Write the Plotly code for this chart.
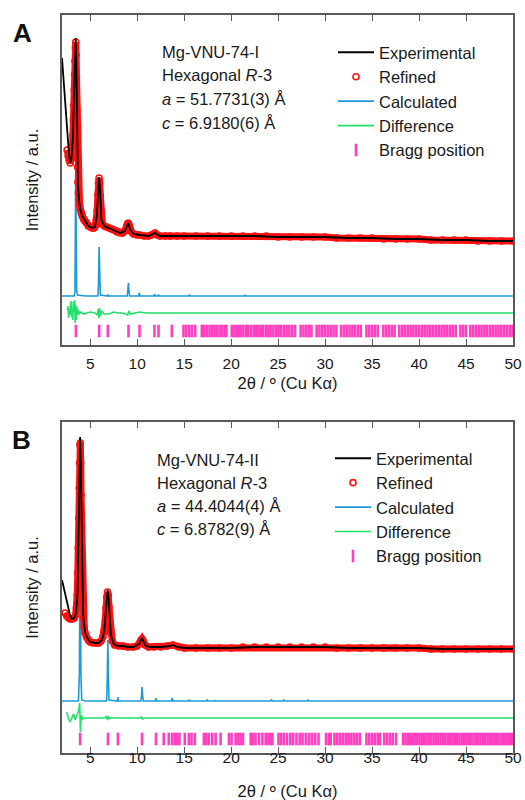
import plotly.graph_objects as go

# ---------------- Panel A : Mg-VNU-74-I (2theta, intensity a.u.) ----------------
a_exp = [(2.00, 287), (2.20, 260), (2.40, 235), (2.60, 208), (2.75, 190), (2.88, 182), (3.00, 186),
         (3.15, 205), (3.28, 245), (3.38, 285), (3.46, 307), (3.54, 270), (3.62, 200), (3.70, 162),
         (3.80, 145), (3.95, 136), (4.15, 129), (4.45, 124), (4.80, 119), (5.20, 117), (5.50, 118),
         (5.70, 128), (5.85, 158), (5.95, 168), (6.05, 155), (6.20, 125), (6.50, 119), (7.00, 117),
         (7.50, 115), (8.20, 112), (8.70, 114), (8.95, 121), (9.05, 122), (9.25, 116), (9.60, 111),
         (10.3, 110), (11.2, 109), (11.9, 112), (12.4, 109), (13.5, 109), (15.0, 109), (17.5, 109),
         (20.0, 109), (22.5, 109), (25.0, 108), (27.5, 108), (30.0, 108), (32.5, 107), (35.0, 107),
         (37.5, 106), (40.0, 106), (42.5, 105), (45.0, 105), (47.5, 104), (50.0, 104)]

a_ref = [(2.55, 195), (2.65, 189), (2.75, 185), (2.88, 182), (3.00, 186), (3.06, 190), (3.12, 198),
         (3.17, 210), (3.22, 225), (3.26, 240), (3.30, 255), (3.34, 270), (3.38, 284), (3.42, 297),
         (3.46, 303), (3.50, 290), (3.54, 268), (3.58, 235), (3.62, 202), (3.66, 178), (3.70, 163),
         (3.75, 152), (3.80, 145), (3.87, 140), (3.95, 136), (4.05, 132), (4.15, 129), (4.30, 126),
         (4.45, 124), (4.60, 122), (4.80, 119), (5.00, 118), (5.20, 117), (5.40, 117), (5.55, 119),
         (5.65, 124), (5.75, 135), (5.82, 150), (5.88, 162), (5.95, 167), (6.01, 162), (6.07, 150),
         (6.13, 135), (6.20, 125), (6.30, 121), (6.50, 119), (6.75, 118), (7.00, 117), (7.25, 116),
         (7.50, 115), (7.85, 113), (8.20, 112), (8.45, 112), (8.70, 114), (8.85, 118), (8.95, 121),
         (9.05, 122), (9.15, 120), (9.25, 116), (9.40, 113), (9.60, 111), (9.95, 110), (10.3, 110),
         (10.75, 109), (11.2, 109), (11.55, 110), (11.9, 112), (12.15, 110), (12.4, 109), (13.0, 109),
         (13.5, 109), (14.25, 109), (15.0, 109), (16.25, 109), (17.5, 109), (18.75, 109), (20.0, 109),
         (21.25, 109), (22.5, 109), (23.75, 109), (25.0, 108), (26.25, 108), (27.5, 108), (28.75, 108),
         (30.0, 108), (31.25, 107), (32.5, 107), (33.75, 107), (35.0, 107), (36.25, 106), (37.5, 106),
         (38.75, 106), (40.0, 106), (41.25, 105), (42.5, 105), (43.75, 105), (45.0, 105), (46.25, 104),
         (47.5, 104), (48.75, 104), (50.0, 104)]

a_calc = [(2.0, 49), (3.30, 49), (3.38, 54), (3.43, 110), (3.47, 200), (3.51, 110), (3.56, 54),
          (3.65, 50), (4.5, 49), (5.82, 49), (5.88, 60), (5.95, 98), (6.02, 60), (6.08, 50),
          (6.85, 49), (6.88, 50.5), (6.92, 49), (8.95, 49), (9.01, 54), (9.07, 62), (9.13, 54),
          (9.20, 49), (10.15, 49), (10.22, 52), (10.30, 49), (11.80, 49), (11.85, 51), (11.90, 49),
          (12.22, 49), (12.27, 50.5), (12.32, 49), (15.50, 49), (15.55, 50.5), (15.60, 49),
          (21.45, 49), (21.50, 50.3), (21.55, 49), (50.0, 49)]

a_diff = [(2.58, 35), (2.64, 39), (2.70, 27), (2.76, 36), (2.82, 30), (2.90, 40), (2.96, 44),
          (3.02, 28), (3.08, 36), (3.14, 25), (3.20, 43), (3.28, 33), (3.34, 45), (3.40, 22),
          (3.46, 40), (3.52, 25), (3.58, 38), (3.66, 30), (3.74, 35), (3.85, 31), (4.00, 33),
          (4.30, 31), (4.60, 32), (5.00, 33), (5.50, 32), (5.75, 30), (5.85, 36), (5.92, 27),
          (6.00, 37), (6.08, 29), (6.20, 34), (6.50, 31), (7.00, 31), (7.50, 33), (8.00, 32),
          (8.50, 32), (9.00, 30), (9.10, 34), (9.30, 31), (10.0, 32), (10.25, 33), (11.0, 32),
          (12.0, 32), (50.0, 32)]

a_bragg = [3.48, 5.96, 6.88, 9.08, 10.25, 11.84, 12.27, 13.69, 14.93, 15.21, 15.53, 15.82, 16.17,
           16.88, 17.13, 17.41, 17.70, 17.94, 18.23, 18.48, 18.76, 19.00, 19.30, 19.50, 20.07, 20.35,
           20.60, 20.80, 21.00, 21.30, 21.60, 21.80, 22.10, 22.40, 22.66, 22.90, 23.16, 23.40, 23.70,
           23.97, 24.20, 24.50, 24.80, 25.05, 25.30, 25.60, 25.90, 26.20, 26.50, 26.80, 27.40, 27.70,
           28.00, 28.30, 28.55, 29.10, 29.40, 29.70, 30.00, 30.30, 30.60, 30.90, 31.20, 31.70, 32.00,
           32.30, 32.60, 32.90, 33.20, 33.50, 33.80, 34.40, 34.70, 35.00, 35.30, 35.60, 36.20, 36.50,
           36.80, 37.10, 37.40, 37.90, 38.20, 38.50, 38.80, 39.10, 39.40, 39.70, 40.00, 40.30, 40.60,
           40.90, 41.20, 41.50, 41.80, 42.10, 42.40, 42.70, 43.00, 43.30, 43.60, 43.90, 44.40, 44.70,
           45.00, 45.45, 45.75, 46.05, 46.35, 46.65, 46.95, 47.25, 47.55, 47.85, 48.15, 48.45, 48.75,
           49.05, 49.35, 49.65, 49.95]

a_info = ["Mg-VNU-74-I", "Hexagonal <i>R</i>-3", "<i>a</i> = 51.7731(3) Å", "<i>c</i> = 6.9180(6) Å"]

# ---------------- Panel B : Mg-VNU-74-II ----------------
b_exp = [(2.0, 173), (2.3, 160), (2.6, 147), (2.85, 138), (3.05, 134), (3.3, 135), (3.5, 140),
         (3.65, 160), (3.75, 210), (3.85, 280), (3.93, 316), (4.0, 290), (4.08, 220), (4.16, 170),
         (4.25, 140), (4.35, 128), (4.5, 119), (4.75, 114), (5.0, 111), (5.5, 110), (5.9, 110),
         (6.25, 113), (6.5, 122), (6.65, 140), (6.78, 158), (6.86, 163), (6.95, 156), (7.05, 138),
         (7.2, 118), (7.5, 109), (8.0, 107), (8.5, 107), (9.0, 106), (9.6, 106), (10.2, 109),
         (10.4, 113), (10.52, 115), (10.65, 112), (10.9, 107), (11.4, 106), (12.5, 106), (13.5, 107),
         (13.8, 108), (14.2, 106), (15.0, 105), (17.5, 105), (20.0, 105), (22.5, 106), (25.0, 106),
         (27.5, 106), (30.0, 106), (32.5, 105), (35.0, 105), (37.5, 105), (40.0, 105), (42.5, 104),
         (45.0, 104), (47.5, 104), (50.0, 104)]

b_ref = [(2.33, 140), (2.50, 137), (2.70, 135), (2.90, 134), (3.10, 134), (3.30, 135), (3.45, 138),
         (3.55, 145), (3.62, 158), (3.68, 180), (3.73, 205), (3.78, 235), (3.83, 265), (3.87, 290),
         (3.91, 308), (3.95, 310), (3.99, 290), (4.03, 258), (4.07, 225), (4.11, 195), (4.16, 168),
         (4.21, 150), (4.28, 135), (4.36, 126), (4.45, 120), (4.60, 116), (4.80, 113), (5.00, 111),
         (5.30, 110), (5.60, 110), (5.90, 110), (6.15, 112), (6.35, 116), (6.50, 122), (6.60, 132),
         (6.68, 145), (6.76, 156), (6.84, 161), (6.92, 158), (7.00, 146), (7.08, 132), (7.18, 120),
         (7.35, 112), (7.60, 108), (8.00, 107), (8.50, 107), (9.00, 106), (9.60, 106), (10.0, 107),
         (10.25, 110), (10.40, 113), (10.52, 114), (10.64, 112), (10.85, 108), (11.2, 106), (11.8, 106),
         (12.5, 106), (13.2, 107), (13.8, 108), (14.4, 106), (15.0, 105), (16.25, 105), (17.5, 105),
         (18.75, 105), (20.0, 105), (21.25, 106), (22.5, 106), (23.75, 106), (25.0, 106), (26.25, 106),
         (27.5, 106), (28.75, 106), (30.0, 106), (31.25, 105), (32.5, 105), (33.75, 105), (35.0, 105),
         (36.25, 105), (37.5, 105), (38.75, 105), (40.0, 105), (41.25, 104), (42.5, 104), (43.75, 104),
         (45.0, 104), (46.25, 104), (47.5, 104), (48.75, 104), (50.0, 104)]

b_calc = [(2.0, 52), (3.75, 52), (3.85, 80), (3.93, 230), (4.01, 80), (4.10, 53), (4.5, 52),
          (6.75, 52), (6.82, 75), (6.88, 113), (6.94, 75), (7.00, 53), (7.90, 52), (7.95, 56),
          (8.00, 52), (10.40, 52), (10.47, 58), (10.52, 66), (10.58, 58), (10.65, 52), (11.95, 52),
          (12.00, 55), (12.05, 52), (13.65, 52), (13.72, 55), (13.80, 52), (15.50, 52), (15.55, 53.5),
          (15.60, 52), (17.40, 52), (17.45, 53.5), (17.50, 52), (18.30, 52), (18.35, 53), (18.40, 52),
          (24.20, 52), (24.30, 53), (24.40, 52), (25.50, 52), (25.60, 53), (25.70, 52), (28.10, 52),
          (28.20, 53), (28.30, 52), (50.0, 52)]

b_diff = [(2.51, 41), (2.70, 34), (2.87, 31), (3.05, 36), (3.23, 39), (3.40, 33), (3.60, 38),
          (3.76, 42), (3.88, 50), (3.96, 21), (4.05, 38), (4.20, 34), (4.50, 35), (5.00, 35),
          (6.60, 35), (6.75, 37), (6.85, 33), (6.95, 36), (7.10, 34.5), (7.30, 35.5), (7.50, 35),
          (10.30, 35), (10.45, 36), (10.55, 34), (10.70, 35), (50.0, 35)]

b_bragg = [3.93, 6.89, 7.95, 10.52, 12.00, 12.83, 13.36, 13.72, 14.00, 14.25, 14.50, 15.07, 15.50,
           15.78, 16.14, 17.10, 17.35, 17.63, 17.99, 18.35, 18.88, 19.77, 20.05, 20.48, 20.77, 21.00,
           21.26, 22.08, 22.33, 22.60, 22.97, 23.33, 23.68, 23.97, 24.20, 24.40, 25.04, 25.30, 25.60,
           25.95, 26.30, 26.60, 26.95, 27.30, 27.60, 27.95, 28.30, 28.60, 28.95, 29.30, 30.10, 30.40,
           30.60, 31.00, 31.30, 31.60, 31.90, 32.20, 32.50, 32.80, 33.10, 33.40, 33.70, 34.40, 34.70,
           35.00, 35.30, 35.60, 35.85, 36.30, 36.60, 36.90, 37.20, 37.55, 38.30, 38.55, 38.80, 39.05,
           39.30, 39.55, 39.80, 40.05, 40.30, 40.55, 40.80, 41.05, 41.30, 41.55, 41.80, 42.05, 42.30,
           42.55, 42.80, 43.05, 43.30, 43.55, 43.80, 44.05, 44.30, 44.55, 44.80, 45.05, 45.30, 45.55,
           45.80, 46.05, 46.30, 46.55, 46.80, 47.05, 47.30, 47.55, 47.80, 48.05, 48.30, 48.55, 48.80,
           49.05, 49.30, 49.55, 49.80, 50.00]

b_info = ["Mg-VNU-74-II", "Hexagonal <i>R</i>-3", "<i>a</i> = 44.4044(4) Å", "<i>c</i> = 6.8782(9) Å"]

x_ticks = [5, 10, 15, 20, 25, 30, 35, 40, 45, 50]
x_ticktext = ["5", "10", "15", "20", "25", "30", "35", "40", "45", "50"]
legend_names = ["Experimental", "Refined", "Calculated", "Difference", "Bragg position"]

# ---------------- styling / layout ----------------
W, H = 525, 800
ML, MR, MT, MB = 62, 12, 15, 47
FONT = "Arial, Liberation Sans, sans-serif"
C_EXP, C_REF, C_CALC, C_DIFF, C_BRAGG = "#000000", "#ff1010", "#1e9bd7", "#22e06a", "#ff3fbf"
AXC = "#5a5a5a"
BRAGG_LEVEL = 14


def fx(px):
    return (px - ML) / (W - ML - MR)


def fy(py):
    return (H - MB - py) / (H - MT - MB)


def unzip(pairs):
    return [p[0] for p in pairs], [p[1] for p in pairs]


fig = go.Figure()


def add_panel(exp, ref, calc, diff, bragg, xa, ya, leg):
    ex, ey = unzip(exp)
    rx, ry = unzip(ref)
    cx, cy = unzip(calc)
    dx, dy = unzip(diff)
    fig.add_trace(go.Scatter(x=bragg, y=[BRAGG_LEVEL] * len(bragg), mode="markers", name=legend_names[4],
                             marker=dict(symbol="line-ns", size=9, color=C_BRAGG,
                                         line=dict(width=2.6, color=C_BRAGG)),
                             xaxis=xa, yaxis=ya, legend=leg, legendrank=5))
    fig.add_trace(go.Scatter(x=dx, y=dy, mode="lines", name=legend_names[3],
                             line=dict(color=C_DIFF, width=1.6), xaxis=xa, yaxis=ya, legend=leg, legendrank=4))
    fig.add_trace(go.Scatter(x=cx, y=cy, mode="lines", name=legend_names[2],
                             line=dict(color=C_CALC, width=1.6), xaxis=xa, yaxis=ya, legend=leg, legendrank=3))
    fig.add_trace(go.Scatter(x=rx, y=ry, mode="lines", showlegend=False, hoverinfo="skip",
                             line=dict(color=C_REF, width=7), xaxis=xa, yaxis=ya))
    fig.add_trace(go.Scatter(x=rx, y=ry, mode="markers", name=legend_names[1],
                             marker=dict(symbol="circle-open", size=6, color=C_REF,
                                         line=dict(width=1.6, color=C_REF)),
                             xaxis=xa, yaxis=ya, legend=leg, legendrank=2))
    fig.add_trace(go.Scatter(x=ex, y=ey, mode="lines", name=legend_names[0],
                             line=dict(color=C_EXP, width=1.8), xaxis=xa, yaxis=ya, legend=leg, legendrank=1))


add_panel(a_exp, a_ref, a_calc, a_diff, a_bragg, "x", "y", "legend")
add_panel(b_exp, b_ref, b_calc, b_diff, b_bragg, "x2", "y2", "legend2")


def xaxis_cfg(anchor, standoff, title_standoff):
    return dict(domain=[0, 1], anchor=anchor, range=[2, 50], tickvals=x_ticks, ticktext=x_ticktext,
                ticks="inside", ticklen=6, tickwidth=1.3, tickcolor=AXC, ticklabelstandoff=standoff,
                showline=True, linecolor=AXC, linewidth=1.5, mirror="ticks",
                showgrid=False, zeroline=False, automargin=False,
                tickfont=dict(family=FONT, size=15.5, color="#1a1a1a"),
                title=dict(text="2θ / º (Cu Kα)", standoff=title_standoff,
                           font=dict(family=FONT, size=16.5, color="#1a1a1a")))


def yaxis_cfg(anchor, dom, top):
    return dict(domain=dom, anchor=anchor, range=[0, top], showticklabels=False, ticks="",
                showline=True, linecolor=AXC, linewidth=1.5, mirror=True,
                showgrid=False, zeroline=False, automargin=False,
                title=dict(text="Intensity / a.u.", standoff=17,
                           font=dict(family=FONT, size=16.5, color="#1a1a1a")))


def legend_cfg(px, py):
    return dict(x=fx(px), y=fy(py), xanchor="left", yanchor="top", bgcolor="rgba(0,0,0,0)",
                borderwidth=0, itemwidth=36, tracegroupgap=0, traceorder="normal",
                font=dict(family=FONT, size=16.5, color="#1a1a1a"))


annotations = []
for info, left, rows in [(a_info, 160, [52, 75.5, 99, 123]), (b_info, 155, [460, 483, 506, 529])]:
    for txt, row in zip(info, rows):
        annotations.append(dict(text=txt, x=fx(left), y=fy(row), xref="paper", yref="paper",
                                xanchor="left", yanchor="middle", showarrow=False,
                                font=dict(family=FONT, size=16.5, color="#1a1a1a")))
for lab, px, py in [("A", 22, 33), ("B", 21, 440)]:
    annotations.append(dict(text="<b>%s</b>" % lab, x=fx(px), y=fy(py), xref="paper", yref="paper",
                            xanchor="center", yanchor="middle", showarrow=False,
                            font=dict(family=FONT, size=26, color="#111111")))

fig.update_layout(
    width=W, height=H, margin=dict(l=ML, r=MR, t=MT, b=MB),
    paper_bgcolor="white", plot_bgcolor="white",
    xaxis=xaxis_cfg("y", 4, 6),
    yaxis=yaxis_cfg("x", [fy(345), 1], 330),
    xaxis2=xaxis_cfg("y2", -10, 23),
    yaxis2=yaxis_cfg("x2", [0, fy(422)], 331),
    legend=legend_cfg(333, 35),
    legend2=legend_cfg(330, 441),
    annotations=annotations,
    showlegend=True,
)

fig.write_html("out.html", config={"displayModeBar": False},
               post_script="document.body.style.margin='0';document.body.style.overflow='hidden';")
